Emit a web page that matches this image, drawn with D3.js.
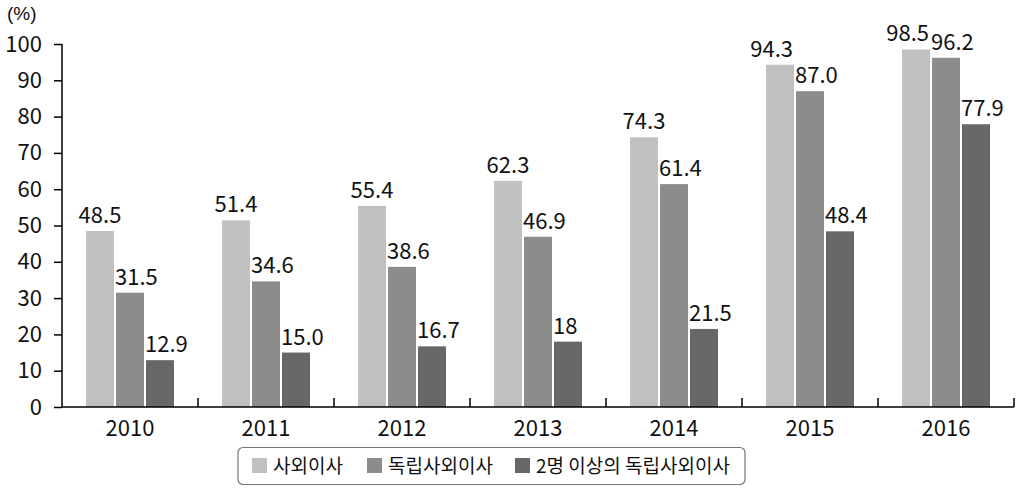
<!DOCTYPE html>
<html><head><meta charset="utf-8">
<script src="https://cdn.jsdelivr.net/npm/d3@7"></script>
<style>body{margin:0;background:#fff}svg{display:block;font-family:"Noto Sans CJK KR","Noto Sans",sans-serif}</style>
</head><body><svg id="c" width="1024" height="488"></svg>
<script>
const years = ["2010","2011","2012","2013","2014","2015","2016"];
const seriesNames = ["사외이사","독립사외이사","2명 이상의 독립사외이사"];
const outside = [48.5,51.4,55.4,62.3,74.3,94.3,98.5];
const independent = [31.5,34.6,38.6,46.9,61.4,87.0,96.2];
const twoPlus = [12.9,15.0,16.7,18,21.5,48.4,77.9];
const labels2 = ["12.9","15.0","16.7","18","21.5","48.4","77.9"];
const yTicks = [0,10,20,30,40,50,60,70,80,90,100];
const colors = ["#c0c0c0","#8c8c8c","#676767"];

const series = [
  {name:seriesNames[0], values:outside, labels:outside.map(v=>v.toFixed(1))},
  {name:seriesNames[1], values:independent, labels:independent.map(v=>v.toFixed(1))},
  {name:seriesNames[2], values:twoPlus, labels:labels2}
];

const svg = d3.select("#c");
const m = {left:62, right:1014, top:44, bottom:407};
const x = d3.scaleBand().domain(years).range([m.left,m.right]);
const y = d3.scaleLinear().domain([0,100]).range([m.bottom,m.top]);
const inner = d3.scaleBand().domain([0,1,2]).range([0, x.bandwidth()]).paddingOuter(0.8).paddingInner(0.0667);

// bars
const labelNodes = years.map(()=>[]);
series.forEach((s,si)=>{
  const g = svg.append("g");
  g.selectAll("rect").data(years).join("rect")
    .attr("x", (d,i)=>x(d)+inner(si))
    .attr("width", inner.bandwidth())
    .attr("y", (d,i)=>y(s.values[i]))
    .attr("height", (d,i)=>y(0)-y(s.values[i]))
    .attr("fill", colors[si]);
  g.selectAll("text").data(years).join("text")
    .attr("x", (d,i)=> si===0 ? x(d)+inner(si)+inner.bandwidth()/2 : x(d)+inner(si)-1)
    .attr("y", (d,i)=>y(s.values[i])-8)
    .attr("text-anchor", si===0 ? "middle" : "start")
    .attr("font-size",22).attr("fill","#111")
    .text((d,i)=>s.labels[i])
    .each(function(d,i){ labelNodes[i][si]=this; });
});
// avoid overlapping labels within a group: shift left
labelNodes.forEach(nodes=>{
  for(let k=nodes.length-2;k>=0;k--){
    const a=nodes[k].getBBox(), b=nodes[k+1].getBBox();
    const yOverlap = a.y < b.y+b.height && b.y < a.y+a.height;
    const over = a.x+a.width - (b.x-2);
    if(yOverlap && over>0){
      const sel=d3.select(nodes[k]);
      sel.attr("x", +sel.attr("x")-over);
    }
  }
});

// y axis
const yAxis = d3.axisLeft(y).tickValues(yTicks).tickSize(8).tickPadding(12);
const ga = svg.append("g").attr("transform",`translate(${m.left},0)`).call(yAxis);
ga.select(".domain").attr("stroke","#000").attr("stroke-width",1.5).attr("d",`M0,${m.top}V${m.bottom}`);
ga.selectAll(".tick line").attr("stroke","#000").attr("stroke-width",1.5);
ga.selectAll(".tick text").attr("font-size",22).attr("fill","#111").attr("font-family","Noto Sans CJK KR");

// x axis
const xAxis = d3.axisBottom(x).tickSize(0).tickPadding(13);
const gx = svg.append("g").attr("transform",`translate(0,${m.bottom})`).call(xAxis);
gx.select(".domain").attr("stroke","#000").attr("stroke-width",1.5).attr("d",`M${m.left},0H${m.right}`);
gx.selectAll(".tick text").attr("font-size",22).attr("fill","#111").attr("font-family","Noto Sans CJK KR");
// category separator ticks (upward)
svg.append("g").selectAll("line").data(years.slice(1).concat(["end"])).join("line")
  .attr("x1",(d,i)=> i<years.length-1 ? x(d) : m.right)
  .attr("x2",(d,i)=> i<years.length-1 ? x(d) : m.right)
  .attr("y1",m.bottom).attr("y2",m.bottom-9)
  .attr("stroke","#000").attr("stroke-width",1.5);

svg.append("text").attr("x",7).attr("y",20).attr("font-size",19)
  .attr("font-family","Liberation Sans, Arial, sans-serif").attr("fill","#111").text("(%)");

// legend
const lg = svg.append("g");
lg.append("rect").attr("x",238).attr("y",447.5).attr("width",507).attr("height",37).attr("rx",5)
  .attr("fill","#fff").attr("stroke","#777").attr("stroke-width",1.2);
const lx = [252, 367, 515];
series.forEach((s,si)=>{
  lg.append("rect").attr("x",lx[si]).attr("y",458).attr("width",15).attr("height",15).attr("fill",colors[si]);
  lg.append("text").attr("x",lx[si]+21).attr("y",473).attr("font-size",19).attr("fill","#111").text(s.name);
});
</script></body></html>
